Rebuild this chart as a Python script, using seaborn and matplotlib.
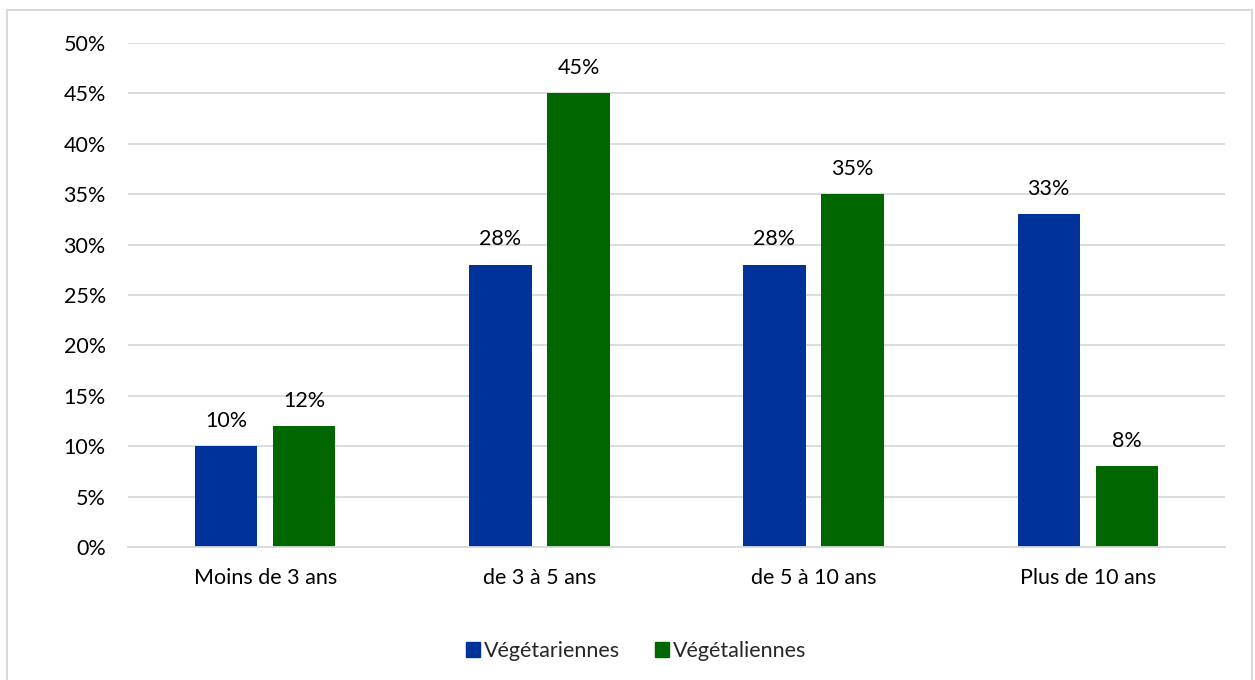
import matplotlib
matplotlib.use("Agg")
import matplotlib.pyplot as plt
import matplotlib.patches as mpatches
from matplotlib.ticker import FuncFormatter, MultipleLocator
import pandas as pd
import seaborn as sns

categories = ["Moins de 3 ans", "de 3 à 5 ans", "de 5 à 10 ans", "Plus de 10 ans"]
series_names = ["Végétariennes", "Végétaliennes"]
vegetariennes = [10, 28, 28, 33]
vegetaliennes = [12, 45, 35, 8]
colors = ["#003399", "#006600"]

df = pd.DataFrame({
    "categorie": categories * 2,
    "groupe": [series_names[0]] * len(categories) + [series_names[1]] * len(categories),
    "valeur": vegetariennes + vegetaliennes,
})

sns.set_theme(style="white")
plt.rcParams["font.family"] = ["Lato", "DejaVu Sans"]
FS = 15.5

fig = plt.figure(figsize=(12.55, 6.8), dpi=100)
ax = fig.add_axes([128 / 1255, 1 - 547 / 680, 1097 / 1255, 504 / 680])

sns.barplot(data=df, x="categorie", y="valeur", hue="groupe",
            palette=colors, width=0.57, gap=0.2, ax=ax,
            legend=False, saturation=1, linewidth=0)

ax.set_ylim(0, 50)
ax.set_xlim(-0.5, len(categories) - 0.5)
ax.yaxis.set_major_locator(MultipleLocator(5))
ax.yaxis.set_major_formatter(FuncFormatter(lambda v, _: f"{v:.0f}%"))
ax.grid(axis="y", color="#d9d9d9", linewidth=1.3)
ax.set_axisbelow(True)
for side in ["top", "right", "left"]:
    ax.spines[side].set_visible(False)
ax.spines["bottom"].set_color("#d9d9d9")
ax.spines["bottom"].set_linewidth(1.3)
ax.set_xlabel("")
ax.set_ylabel("")
ax.tick_params(axis="y", length=0, pad=16, labelsize=FS, labelcolor="#000000")
ax.tick_params(axis="x", length=0, pad=15, labelsize=FS, labelcolor="#000000")

for container in ax.containers:
    ax.bar_label(container, labels=[f"{v:.0f}%" for v in container.datavalues],
                 padding=11, fontsize=FS, color="#000000")

handles = [mpatches.Patch(color=c, label=n) for c, n in zip(colors, series_names)]
fig.legend(handles=handles, loc="center", bbox_to_anchor=(636 / 1255, 1 - 651 / 680),
           ncol=2, frameon=False, fontsize=FS, handlelength=0.65, handleheight=0.65,
           handletextpad=0.2, columnspacing=1.6)

fig.patches.append(mpatches.Rectangle((7 / 1255, -0.05), 1245 / 1255, 1.05 - 10 / 680,
                                      transform=fig.transFigure, fill=False,
                                      edgecolor="#d9d9d9", linewidth=1.5))

fig.savefig("out.png", dpi=100)
